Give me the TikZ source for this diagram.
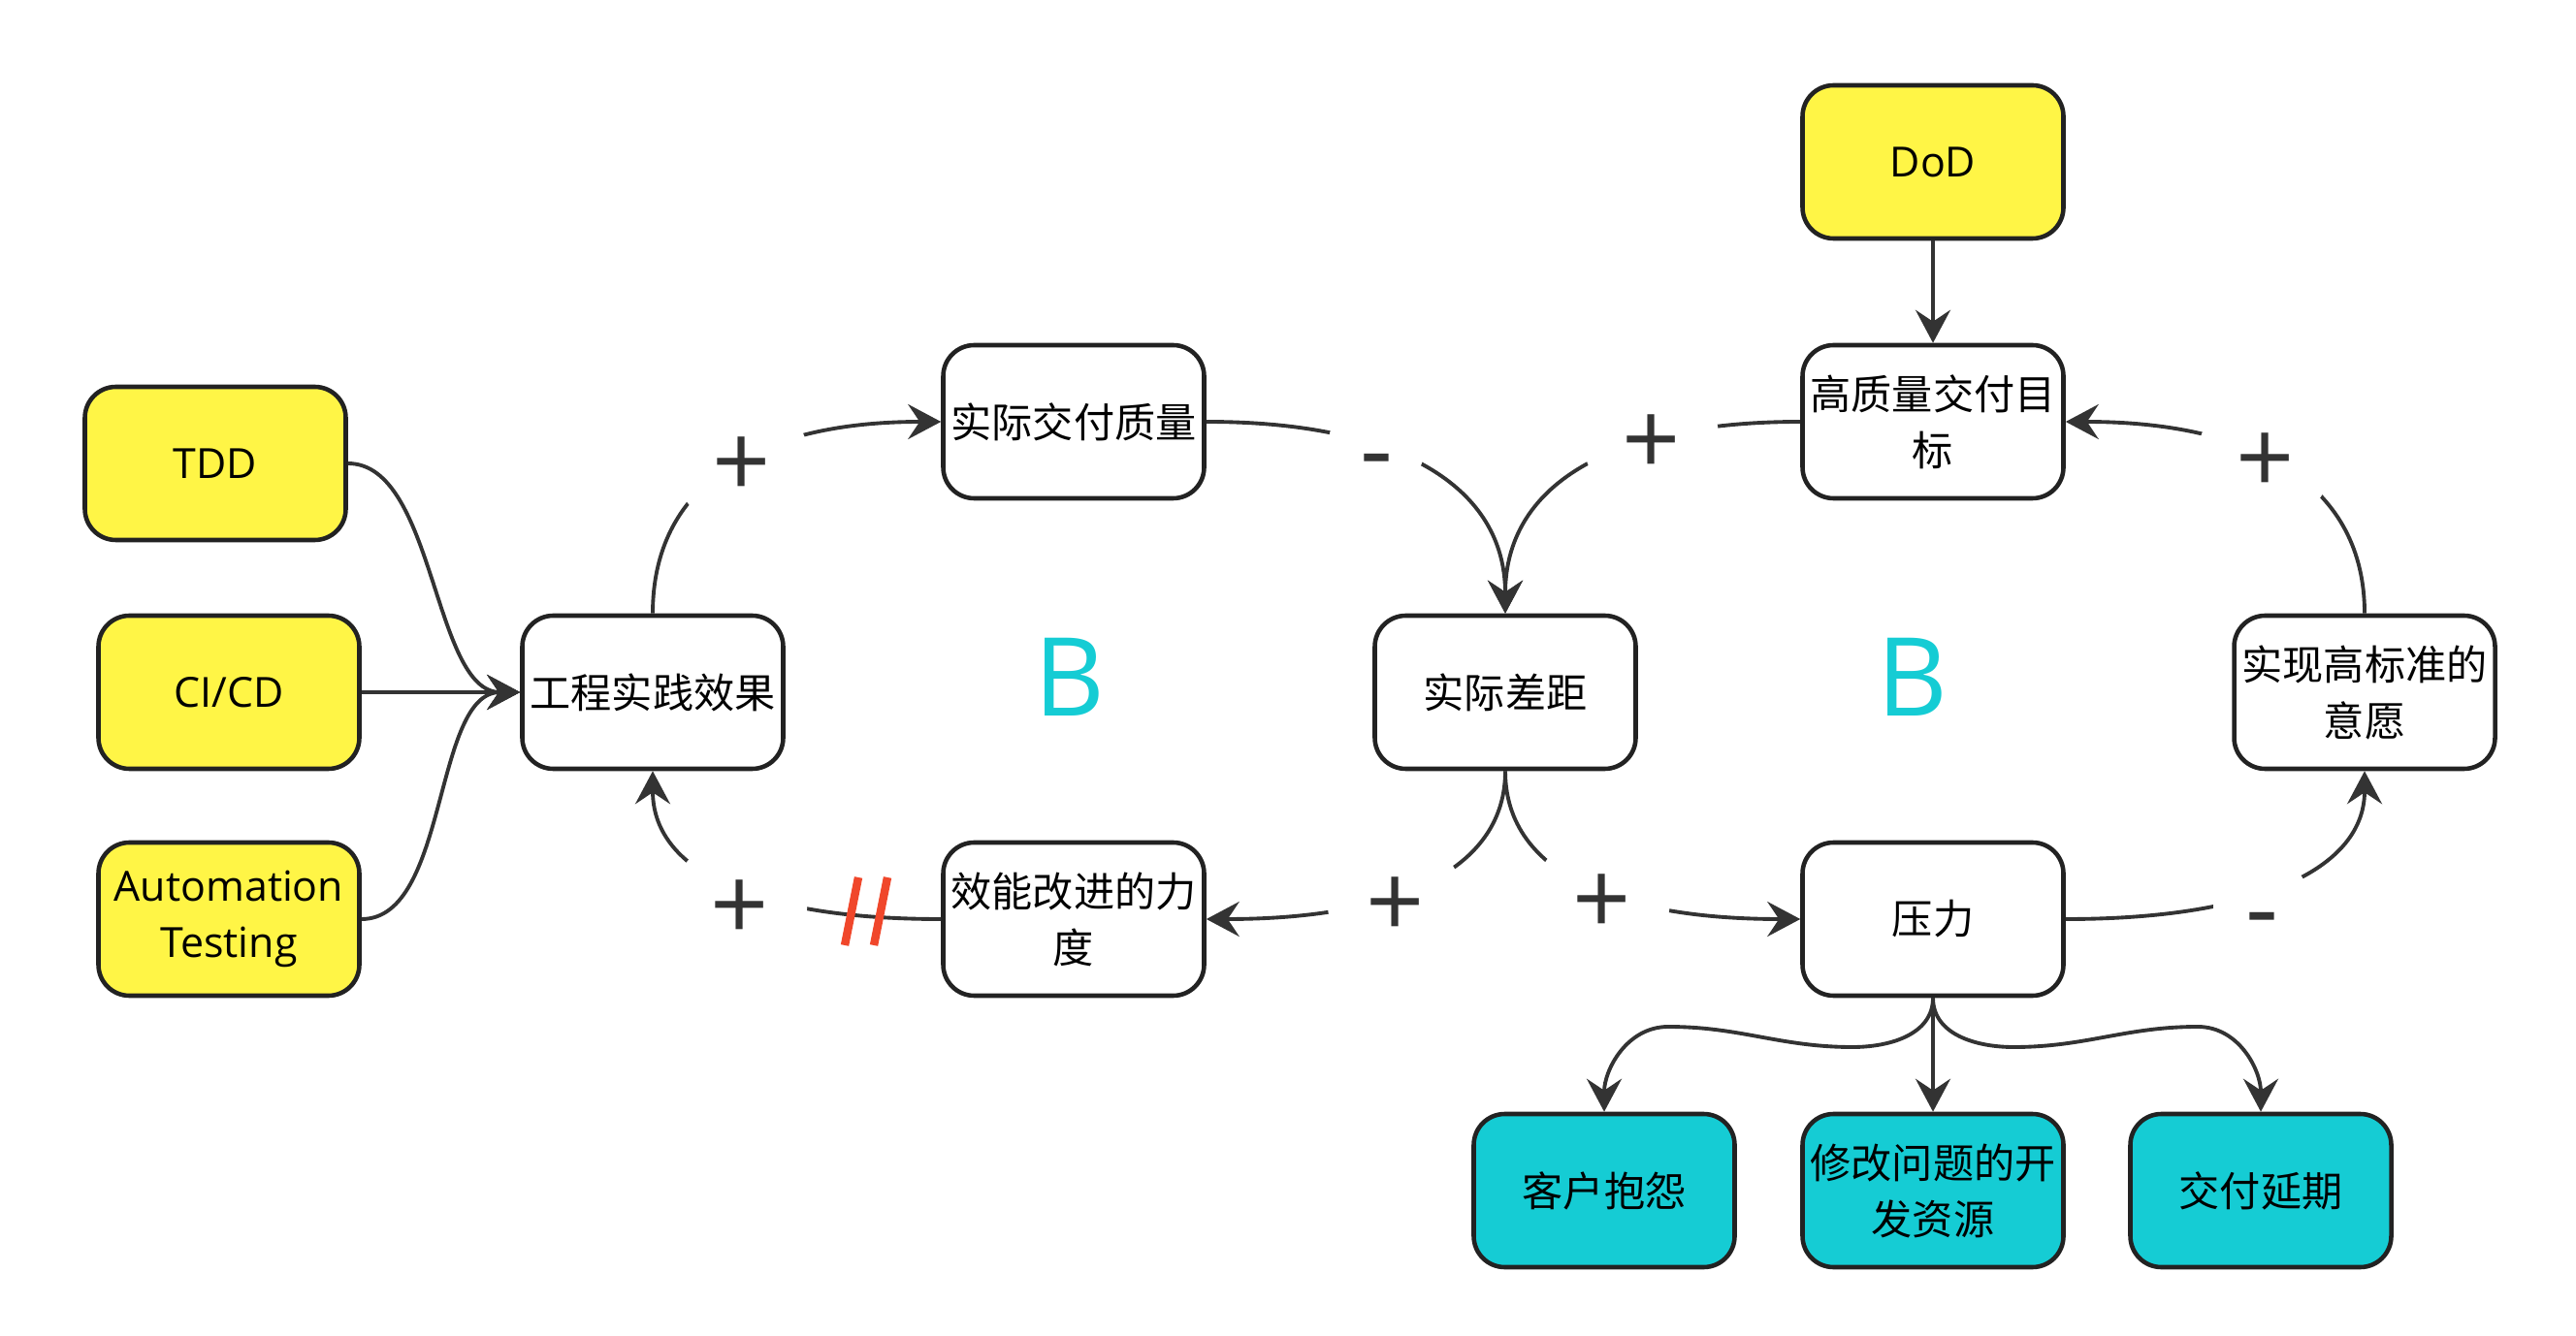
\documentclass[tikz,border=0pt]{standalone}
\usepackage{fontspec}
\setmainfont{Open Sans}
\newfontfamily\cjk{Noto Sans CJK SC}
\usetikzlibrary{arrows.meta}

\definecolor{boxyellow}{HTML}{FFF546}
\definecolor{boxcyan}{HTML}{15CCD4}
\definecolor{inkdark}{HTML}{222222}
\definecolor{inkgray}{HTML}{333333}
\definecolor{slashred}{HTML}{F0472B}

\begin{document}
\begin{tikzpicture}[
    >={Stealth[length=3.4mm, width=3.6mm, inset=1.2mm]}, % arrow tip for every link
    box/.style={draw=inkdark, line width=1.3pt, rounded corners=0.32cm,
        minimum width=2.69cm, minimum height=1.58cm, inner sep=1pt, align=center,
        font=\cjk\fontsize{12pt}{16.5pt}\selectfont}, % white loop variable
    toolbox/.style={box, fill=boxyellow, font=\fontsize{12.2pt}{16.5pt}\selectfont}, % practices
    effectbox/.style={box, fill=boxcyan}, % side effects of pressure
    link/.style={->, draw=inkgray, line width=1.1pt}, % connectors
    signlabel/.style={circle, fill=white, inner sep=0pt, minimum size=1.4cm,
        text height=0.75cm, text depth=0pt,
        text=inkgray, font=\fontsize{30pt}{30pt}\selectfont}, % + and - on links
    minussign/.style={minimum size=1cm, text height=0.82cm},
    looplabel/.style={text=boxcyan, font=\fontsize{32pt}{32pt}\selectfont}, % balancing loops
    redslash/.style={draw=slashred, line width=2.4pt} % delay mark
]

    % Page size
    \useasboundingbox (0,0) rectangle (26.56,-13.78);

    % Practices
    \node[toolbox] (tdd)  at (2.22,-4.78) {TDD};
    \node[toolbox] (cicd) at (2.36,-7.14) {CI/CD};
    \node[toolbox] (auto) at (2.36,-9.48) {Automation\\Testing};
    \node[toolbox] (dod)  at (19.93,-1.67) {DoD};

    % Loop variables
    \node[box] (eng)    at (6.73,-7.14)  {工程实践效果};
    \node[box] (qual)   at (11.07,-4.35) {实际交付质量};
    \node[box] (effort) at (11.07,-9.48) {效能改进的力\\度};
    \node[box] (gap)    at (15.52,-7.14) {实际差距};
    \node[box] (goal)   at (19.93,-4.35) {高质量交付目\\标};
    \node[box] (will)   at (24.38,-7.14) {实现高标准的\\意愿};
    \node[box] (press)  at (19.93,-9.48) {压力};

    % Effects
    \node[effectbox] (cust)  at (16.54,-12.28) {客户抱怨};
    \node[effectbox] (res)   at (19.93,-12.28) {修改问题的开\\发资源};
    \node[effectbox] (delay) at (23.31,-12.28) {交付延期};

    % Loop names
    \node[looplabel] (loopa) at (11.03,-6.98) {B};
    \node[looplabel] (loopb) at (19.72,-6.98) {B};

    % Practices feed the engineering effect
    \draw[link] (tdd.east) .. controls +(0.9,0) and +(-0.9,0) .. (eng.west);
    \draw[link] (cicd.east) -- (eng.west);
    \draw[link] (auto.east) .. controls +(0.9,0) and +(-0.9,0) .. (eng.west);
    \draw[link] (dod.south) -- (goal.north);

    % Left loop
    \draw[link] (eng.north) .. controls +(0,1.3) and +(-1.95,0) .. (qual.west)
        node[signlabel, pos=0.55] {+};
    \draw[link] (qual.east) .. controls +(2.0,0) and +(0,1.3) .. (gap.north)
        node[signlabel, minussign, pos=0.35] {-};
    \draw[link] (gap.south) .. controls +(0,-1.0) and +(2.0,0) .. (effort.east)
        node[signlabel, pos=0.6, yshift=-0.07cm] {+};
    \draw[link] (effort.west) .. controls +(-2.0,0) and +(0,-1.0) .. (eng.south)
        node[signlabel, pos=0.45, yshift=-0.17cm] {+};

    % Delay on the improvement link
    \foreach \x in {8.78, 9.08} {
        \draw[redslash] (\x-0.07,-9.75) -- (\x+0.07,-9.05);
    }

    % Right loop
    \draw[link] (goal.west) .. controls +(-2.0,0) and +(0,1.3) .. (gap.north)
        node[signlabel, pos=0.3] {+};
    \draw[link] (gap.south) .. controls +(0,-1.0) and +(-2.0,0) .. (press.west)
        node[signlabel, pos=0.57, yshift=-0.08cm] {+};
    \draw[link] (press.east) .. controls +(2.0,0) and +(0,-1.0) .. (will.south)
        node[signlabel, minussign, pos=0.42, yshift=-0.12cm] {-};
    \draw[link] (will.north) .. controls +(0,1.3) and +(2.0,0) .. (goal.east)
        node[signlabel, pos=0.57] {+};

    % Pressure spreads out
    \draw[link] (press.south) to[out=-90,in=0] (19.10,-10.80)
        to[out=180,in=0] (17.20,-10.59) to[out=180,in=90] (cust.north);
    \draw[link] (press.south) -- (res.north);
    \draw[link] (press.south) to[out=-90,in=180] (20.76,-10.80)
        to[out=0,in=180] (22.66,-10.59) to[out=0,in=90] (delay.north);

\end{tikzpicture}
\end{document}
